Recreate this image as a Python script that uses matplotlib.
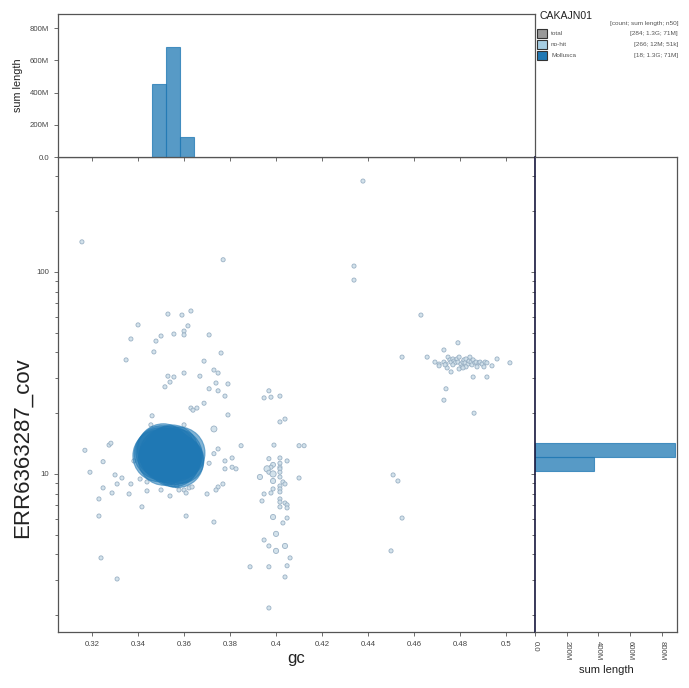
import numpy as np
import matplotlib
matplotlib.use("Agg")
import matplotlib.pyplot as plt
from matplotlib.patches import Rectangle
from matplotlib.ticker import FixedLocator, NullFormatter, FuncFormatter

plt.rcParams['font.family'] = ['Liberation Sans', 'DejaVu Sans']

# no-hit contigs: (gc, coverage, length kb)
nohit = [
    (0.3156, 141, 30), (0.3770, 115, 30), (0.3530, 61.9, 30), (0.3591, 61.2, 30),
    (0.3630, 64.1, 30), (0.3400, 54.7, 30), (0.3617, 54.1, 30), (0.3600, 51.0, 30),
    (0.3556, 49.3, 30), (0.3600, 48.8, 30), (0.3500, 48.2, 30), (0.3709, 48.8, 30),
    (0.3369, 46.6, 30), (0.3478, 45.5, 30), (0.3469, 40.2, 30), (0.3348, 36.7, 30),
    (0.3761, 39.7, 30), (0.3687, 36.2, 30), (0.3730, 32.7, 30), (0.3748, 31.6, 30),
    (0.3600, 31.6, 30), (0.3530, 30.5, 30), (0.3556, 30.2, 30), (0.3669, 30.5, 30),
    (0.3539, 28.5, 30), (0.3517, 27.0, 30), (0.3739, 28.2, 30), (0.3791, 27.9, 30),
    (0.3709, 26.4, 30), (0.3748, 25.8, 30), (0.3778, 24.3, 30), (0.3687, 22.4, 30),
    (0.3630, 21.2, 30), (0.3639, 20.7, 30), (0.3656, 21.2, 30), (0.3791, 19.6, 30),
    (0.3461, 19.4, 30), (0.3456, 17.5, 30), (0.3600, 17.5, 30), (0.3730, 16.7, 350),
    (0.3748, 13.3, 30), (0.3274, 13.9, 30), (0.3282, 14.2, 30), (0.3169, 13.1, 30),
    (0.3248, 11.5, 30), (0.3191, 10.2, 30), (0.3382, 11.6, 30), (0.3730, 12.6, 30),
    (0.3709, 11.3, 30), (0.3778, 11.6, 30), (0.3809, 12.0, 30), (0.3778, 10.6, 30),
    (0.3809, 10.8, 30), (0.3826, 10.6, 30), (0.3769, 8.92, 30), (0.3748, 8.62, 30),
    (0.3739, 8.33, 30), (0.3700, 7.96, 30), (0.3300, 9.89, 30), (0.3330, 9.55, 30),
    (0.3309, 8.92, 30), (0.3369, 8.92, 30), (0.3409, 9.44, 30), (0.3439, 9.13, 30),
    (0.3439, 8.24, 30), (0.3500, 8.33, 30), (0.3552, 8.82, 30), (0.3569, 8.72, 30),
    (0.3578, 8.33, 30), (0.3600, 8.33, 30), (0.3609, 8.05, 30), (0.3622, 8.53, 30),
    (0.3635, 8.62, 30), (0.3248, 8.53, 30), (0.3287, 8.05, 30), (0.3361, 7.96, 30),
    (0.3539, 7.78, 30), (0.3230, 7.52, 30), (0.3417, 6.87, 30), (0.3230, 6.19, 30),
    (0.3609, 6.19, 30), (0.3730, 5.78, 30), (0.3239, 3.84, 30), (0.3309, 3.02, 30),
    # column near gc 0.40
    (0.3969, 25.8, 30), (0.3948, 23.8, 30), (0.3978, 24.0, 30), (0.4017, 24.3, 30),
    (0.4017, 18.1, 30), (0.4039, 18.7, 30), (0.3848, 13.8, 30), (0.3991, 13.9, 30),
    (0.4100, 13.8, 30), (0.4122, 13.8, 30), (0.3969, 11.9, 30), (0.4017, 12.0, 30),
    (0.4048, 11.6, 30), (0.4017, 11.3, 30), (0.3987, 11.1, 150), (0.3978, 10.8, 30),
    (0.4017, 10.8, 30), (0.3961, 10.6, 400), (0.4017, 10.6, 30), (0.4017, 10.2, 30),
    (0.3969, 10.2, 30), (0.3987, 10.0, 400), (0.3930, 9.66, 200), (0.4017, 9.66, 30),
    (0.4100, 9.55, 30), (0.3987, 9.23, 200), (0.4030, 9.13, 30), (0.4039, 8.92, 30),
    (0.4017, 8.72, 30), (0.3987, 8.43, 30), (0.4017, 8.43, 30), (0.3948, 7.96, 30),
    (0.3978, 8.05, 30), (0.4017, 8.15, 30), (0.3939, 7.35, 30), (0.4017, 7.52, 30),
    (0.4017, 7.26, 30), (0.4039, 7.18, 30), (0.4048, 7.03, 30), (0.4017, 6.87, 30),
    (0.4048, 6.79, 30), (0.3987, 6.12, 200), (0.4048, 6.05, 30), (0.4030, 5.72, 30),
    (0.4000, 5.05, 200), (0.3948, 4.71, 30), (0.3969, 4.40, 30), (0.4039, 4.40, 200),
    (0.4000, 4.16, 200), (0.4061, 3.84, 30), (0.3887, 3.47, 30), (0.3969, 3.47, 30),
    (0.4048, 3.51, 30), (0.4039, 3.09, 30), (0.3969, 2.17, 30),
    # right side
    (0.4378, 282, 30), (0.4339, 107, 30), (0.4339, 91.2, 30), (0.4630, 61.2, 30),
    (0.4548, 37.9, 30), (0.4657, 37.9, 30), (0.4791, 44.6, 30), (0.4730, 41.1, 30),
    (0.4961, 37.1, 30), (0.5017, 35.5, 30), (0.4857, 30.2, 30), (0.4917, 30.2, 30),
    (0.4739, 26.4, 30), (0.4730, 23.2, 30), (0.4861, 20.0, 30), (0.4509, 9.89, 30),
    (0.4530, 9.23, 30), (0.4548, 6.05, 30), (0.4500, 4.16, 30),
    (0.4691, 35.8, 30), (0.4709, 35.0, 30), (0.4709, 34.3, 30), (0.4730, 35.8, 30),
    (0.4739, 35.0, 30), (0.4748, 37.9, 30), (0.4756, 36.7, 30), (0.4761, 35.8, 30),
    (0.4769, 37.1, 30), (0.4774, 36.2, 30), (0.4778, 35.5, 30), (0.4787, 37.1, 30),
    (0.4791, 35.8, 30), (0.4796, 37.9, 30), (0.4804, 35.0, 30), (0.4809, 33.9, 30),
    (0.4813, 35.8, 30), (0.4817, 36.7, 30), (0.4822, 35.5, 30), (0.4826, 37.1, 30),
    (0.4835, 35.0, 30), (0.4839, 36.2, 30), (0.4843, 37.9, 30), (0.4848, 35.8, 30),
    (0.4852, 34.7, 30), (0.4857, 36.7, 30), (0.4865, 35.5, 30), (0.4870, 35.8, 30),
    (0.4883, 35.5, 30), (0.4887, 35.8, 30), (0.4896, 35.0, 30), (0.4904, 33.9, 30),
    (0.4909, 35.8, 30), (0.4917, 35.5, 30), (0.4939, 34.3, 30), (0.4744, 33.5, 30),
    (0.4761, 32.0, 30), (0.4796, 33.1, 30), (0.4826, 33.9, 30), (0.4735, 34.7, 30),
    (0.4769, 34.7, 30), (0.4813, 33.5, 30), (0.4874, 33.9, 30),
]

# Mollusca contigs
moll_gc = [0.3490, 0.3496, 0.3503, 0.3510, 0.3514, 0.3518,
           0.3526, 0.3532, 0.3540, 0.3548, 0.3555, 0.3560, 0.3566, 0.3572, 0.3578,
           0.3586, 0.3592, 0.3598]
moll_cov = [12.3, 12.6, 12.9, 13.2, 11.8, 12.5,
            12.2, 12.5, 12.8, 13.0, 11.6, 11.9, 12.4, 11.5, 12.7,
            11.7, 12.3, 11.4]
moll_len = [75, 75, 75, 75, 75, 75,
            76, 76, 76, 76, 75, 75, 76, 75, 76,
            60, 40, 25]  # Mb

# binned sum length
gc_edges = [0.3461, 0.3522, 0.3583, 0.3644]
gc_sum = [450e6, 681e6, 125e6]
cov_edges = [10.35, 12.1, 14.2]
cov_sum = [372e6, 884e6]

legend_names = ["total", "no-hit", "Mollusca"]
legend_colors = ["#999999", "#a6cee3", "#1f78b4"]
legend_stats = ["[284; 1.3G; 71M]", "[266; 12M; 51k]", "[18; 1.3G; 71M]"]

W, H = 689, 688
fig = plt.figure(figsize=(W / 100, H / 100), dpi=100)


def box(l, t, r, b):
    return [l / W, 1 - b / H, (r - l) / W, (b - t) / H]


ax = fig.add_axes(box(58, 157, 535, 632))
axt = fig.add_axes(box(58, 14, 535, 157), sharex=ax)
axr = fig.add_axes(box(535, 157, 677, 632), sharey=ax)

spine_c = "#555555"
tick_kw = dict(labelsize=5.6, labelcolor="#444444", colors=spine_c, length=3, width=0.6)

# scatter
nh = np.array(nohit, dtype=float)
ax.scatter(nh[:, 0], nh[:, 1], s=8 + 0.03 * nh[:, 2], facecolor="#cfdfe9",
           edgecolor="#93abc0", linewidth=0.6, alpha=0.9, zorder=2)
order = np.argsort(moll_len)[::-1]
ax.scatter(np.array(moll_gc)[order], np.array(moll_cov)[order],
           s=18.5 * np.array(moll_len)[order], facecolor="#1f78b4",
           edgecolor="#1f78b4", linewidth=0.8, alpha=0.55, zorder=3)

ax.set_yscale("log")
ax.set_xlim(0.3052, 0.5126)
ax.set_ylim(1.65, 371)
ax.xaxis.set_major_locator(FixedLocator(np.arange(0.32, 0.501, 0.02)))
ax.xaxis.set_major_formatter(FuncFormatter(lambda v, p: f"{v:.2f}".rstrip("0").rstrip(".")))
ax.yaxis.set_major_locator(FixedLocator([10, 100]))
ax.yaxis.set_major_formatter(FuncFormatter(lambda v, p: f"{v:.0f}"))
minor = [m * 10 ** e for e in range(0, 3) for m in range(2, 10)]
ax.yaxis.set_minor_locator(FixedLocator(minor))
ax.yaxis.set_minor_formatter(NullFormatter())
ax.tick_params(axis="both", which="both", direction="out", **tick_kw)
ax.tick_params(axis="y", which="minor", length=2.5)

# top histogram
axt.bar(gc_edges[:-1], gc_sum, width=np.diff(gc_edges), align="edge",
        color="#1f78b4", alpha=0.75, edgecolor="#1f78b4", linewidth=0.8)
axt.set_ylim(0, 887e6)
axt.yaxis.set_major_locator(FixedLocator([0, 200e6, 400e6, 600e6, 800e6]))
fmt_m = FuncFormatter(lambda v, p: "0.0" if v == 0 else f"{v / 1e6:.0f}M")
axt.yaxis.set_major_formatter(fmt_m)
axt.tick_params(axis="both", direction="out", **tick_kw)
axt.tick_params(axis="x", labelbottom=False)

# right histogram
axr.barh(cov_edges[:-1], cov_sum, height=np.diff(cov_edges), align="edge",
         color="#1f78b4", alpha=0.75, edgecolor="#1f78b4", linewidth=0.8)
axr.set_xlim(0, 895e6)
axr.xaxis.set_major_locator(FixedLocator([0, 200e6, 400e6, 600e6, 800e6]))
axr.xaxis.set_major_formatter(fmt_m)
axr.tick_params(axis="both", which="both", direction="out", **tick_kw)
axr.tick_params(axis="y", labelleft=False)
axr.tick_params(axis="y", which="minor", length=2.5)
for lab in axr.get_xticklabels():
    lab.set_rotation(-90)
    lab.set_va("top")
    lab.set_ha("center")

for a in (ax, axt, axr):
    for s in a.spines.values():
        s.set_color(spine_c)
        s.set_linewidth(0.9)
axr.spines["left"].set_color("#1a1a40")
axr.spines["left"].set_linewidth(1.2)

# axis titles
fig.text(296 / W, 1 - 658 / H, "gc", fontsize=12, ha="center", va="center", color="#222222")
fig.text(22 / W, 1 - 448 / H, "ERR6363287_cov", fontsize=16, rotation=90,
         ha="center", va="center", color="#222222")
fig.text(18 / W, 1 - 85 / H, "sum length", fontsize=7.8, rotation=90,
         ha="center", va="center", color="#222222")
fig.text(606 / W, 1 - 670 / H, "sum length", fontsize=8, ha="center", va="center",
         color="#222222")

# legend
fig.text(539 / W, 1 - 16 / H, "CAKAJN01", fontsize=7.6, ha="left", va="center", color="#222222")
fig.text(678 / W, 1 - 24 / H, "[count; sum length; n50]", fontsize=4.6, ha="right",
         va="center", color="#555555")
for i, (name, col, stat) in enumerate(zip(legend_names, legend_colors, legend_stats)):
    yc = 33.5 + i * 11.2
    fig.patches.append(Rectangle((537 / W, 1 - (yc + 4.5) / H), 9.5 / W, 9.5 / H,
                                 transform=fig.transFigure, facecolor=col,
                                 edgecolor="#333333", linewidth=0.8))
    fig.text(551 / W, 1 - yc / H, name, fontsize=4.6, ha="left", va="center", color="#555555")
    fig.text(678 / W, 1 - yc / H, stat, fontsize=4.6, ha="right", va="center", color="#555555")

fig.savefig("out.png", dpi=100)
